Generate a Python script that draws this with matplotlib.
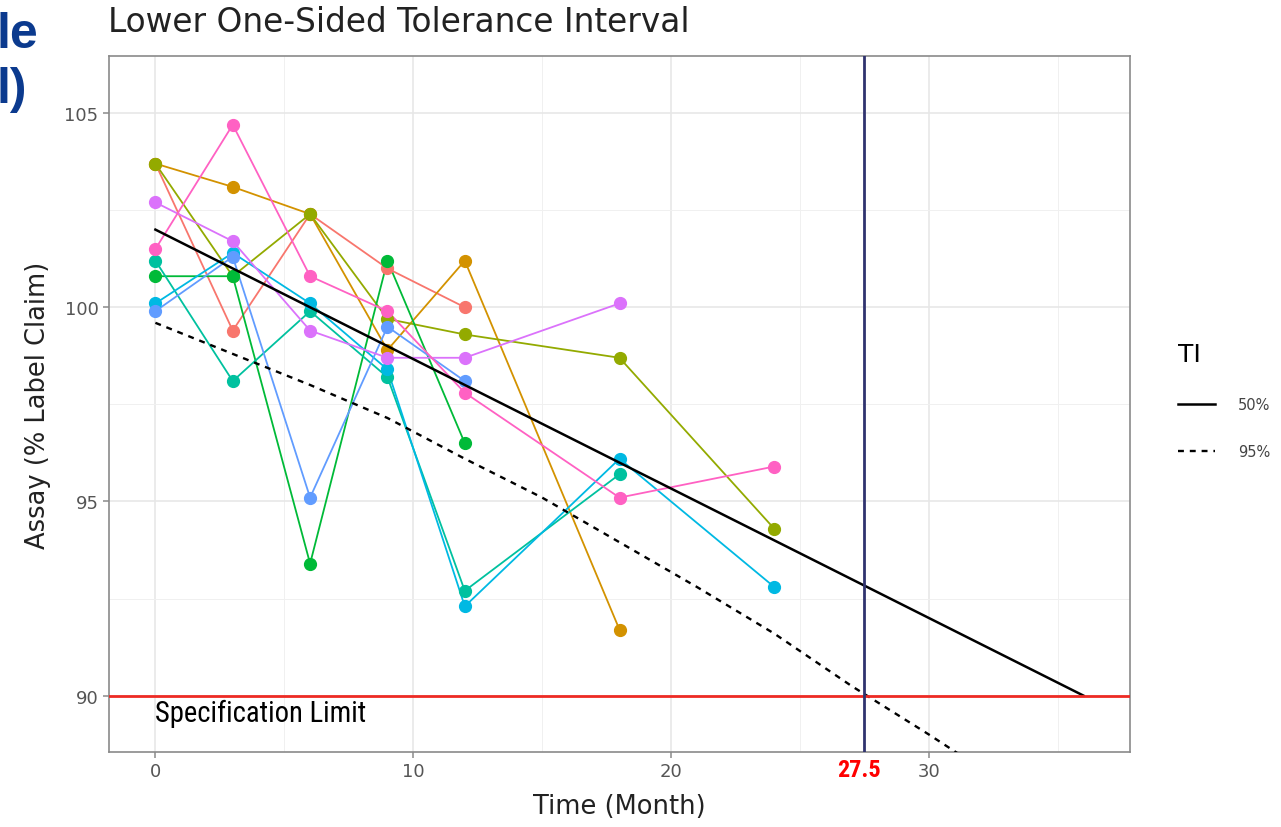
import matplotlib
matplotlib.use("Agg")
import matplotlib.pyplot as plt
from matplotlib import font_manager as fm
import numpy as np

# ---------------- data ----------------
times_red = [0, 3, 6, 9, 12]
assay_red = [103.7, 99.4, 102.4, 101.0, 100.0]
times_orange = [0, 3, 6, 9, 12, 18]
assay_orange = [103.7, 103.1, 102.4, 98.9, 101.2, 91.7]
times_olive = [0, 3, 6, 9, 12, 18, 24]
assay_olive = [103.7, 100.8, 102.4, 99.7, 99.3, 98.7, 94.3]
times_green = [0, 3, 6, 9, 12]
assay_green = [100.8, 100.8, 93.4, 101.2, 96.5]
times_teal = [0, 3, 6, 9, 12, 18]
assay_teal = [101.2, 98.1, 99.9, 98.2, 92.7, 95.7]
times_cyan = [0, 3, 6, 9, 12, 18, 24]
assay_cyan = [100.1, 101.4, 100.1, 98.4, 92.3, 96.1, 92.8]
times_blue = [0, 3, 6, 9, 12]
assay_blue = [99.9, 101.3, 95.1, 99.5, 98.1]
times_purple = [0, 3, 6, 9, 12, 18]
assay_purple = [102.7, 101.7, 99.4, 98.7, 98.7, 100.1]
times_pink = [0, 3, 6, 9, 12, 18, 24]
assay_pink = [101.5, 104.7, 100.8, 99.9, 97.8, 95.1, 95.9]

ti50_time = [0, 36]
ti50_value = [102.0, 90.0]
ti95_time = [0, 3, 6, 9, 12, 15, 18, 21, 24, 27, 30, 33, 36]
ti95_value = [99.6, 98.8, 98.0, 97.15, 96.1, 95.1, 93.95, 92.8, 91.6, 90.25, 89.0, 87.7, 86.3]

spec_limit = 90
shelf_life = 27.5

x_ticks = [0, 10, 20, 30]
y_ticks = [90, 95, 100, 105]
legend_labels = ["50%", "95%"]

series = [
    (times_red, assay_red, "#F8766D"),
    (times_orange, assay_orange, "#D39200"),
    (times_olive, assay_olive, "#93AA00"),
    (times_green, assay_green, "#00BA38"),
    (times_teal, assay_teal, "#00C19F"),
    (times_cyan, assay_cyan, "#00B9E3"),
    (times_blue, assay_blue, "#619CFF"),
    (times_purple, assay_purple, "#DB72FB"),
    (times_pink, assay_pink, "#FF61C3"),
]

# ---------------- fonts ----------------
avail = {f.name for f in fm.fontManager.ttflist}
def pick(cands):
    for c in cands:
        if c in avail:
            return c
    return "DejaVu Sans"

main_font = pick(["DejaVu Sans"])
narrow_font = pick(["Liberation Sans Narrow", "Roboto Condensed", "DejaVu Sans Condensed", "Liberation Sans"])
bold_font = pick(["Liberation Sans", "Arial", "DejaVu Sans"])
plt.rcParams["font.family"] = [main_font]

# ---------------- figure ----------------
W, H = 1281, 828
fig = plt.figure(figsize=(W / 100, H / 100), dpi=100)
ax = fig.add_axes([109 / W, 1 - 753 / H, (1130 - 109) / W, (753 - 57) / H])

ax.set_xlim(-1.8, 37.8)
ax.set_ylim(88.55, 106.47)

# grid
ax.set_xticks(x_ticks)
ax.set_yticks(y_ticks)
ax.set_xticks([5, 15, 25, 35], minor=True)
ax.set_yticks([92.5, 97.5, 102.5], minor=True)
ax.grid(which="major", color="#e6e6e6", lw=1.1)
ax.grid(which="minor", color="#f0f0f0", lw=0.7)
ax.set_axisbelow(True)
for s in ax.spines.values():
    s.set_color("#8a8a8a")
    s.set_linewidth(1.2)
ax.tick_params(which="major", direction="out", length=4, width=1.1, color="#8a8a8a",
               labelsize=13, labelcolor="#555555")
ax.tick_params(which="minor", length=0)

# batch lines then points
for t, v, c in series:
    ax.plot(t, v, color=c, lw=1.3, zorder=3)
for t, v, c in series:
    ax.plot(t, v, ls="none", marker="o", ms=8.5, color=c, mec=c, zorder=4)

# tolerance interval lines
l50, = ax.plot(ti50_time, ti50_value, color="black", lw=1.8, zorder=5)
l95, = ax.plot(ti95_time, ti95_value, color="black", lw=1.7, ls=(0, (2.5, 2.5)), zorder=5)

# spec limit & shelf life
ax.axhline(spec_limit, color="#ee2a24", lw=2.0, zorder=6)
ax.axvline(shelf_life, color="#30336f", lw=2.0, zorder=6)
ax.text(0, 89.55, "Specification Limit", fontsize=20.6, family=narrow_font,
        color="black", ha="left", va="center", zorder=7)
ax.text(27.3, 88.55 - 0.45, f"{shelf_life}", fontsize=17.5, family=narrow_font,
        fontweight="bold", color="#ff0000", ha="center", va="center", clip_on=False)

ax.set_xlabel("Time (Month)", fontsize=18.5, color="#222222", labelpad=9)
ax.set_ylabel("Assay (% Label Claim)", fontsize=18.5, color="#222222", labelpad=10)
ax.set_title("Lower One-Sided Tolerance Interval", fontsize=23.6, loc="left",
             color="#222222", x=-0.001, y=1.0, pad=18)

# legend
leg = fig.legend([l50, l95], legend_labels, title="TI", loc="upper left",
                 bbox_to_anchor=(1165 / W, 1 - 330 / H), frameon=False,
                 fontsize=10.5, title_fontsize=18, handlelength=2.5,
                 labelspacing=2.15, handletextpad=1.6, labelcolor="#444444")
leg._legend_box.align = "left"

# clipped slide heading fragments at the top-left
fig.text(38 / W, 1 - 35 / H, "le", fontsize=36, fontweight="bold", family=bold_font,
         color="#0b3a8e", ha="right", va="center")
fig.text(27 / W, 1 - 90 / H, "l)", fontsize=36, fontweight="bold", family=bold_font,
         color="#0b3a8e", ha="right", va="center")

fig.savefig("out.png", dpi=100)
